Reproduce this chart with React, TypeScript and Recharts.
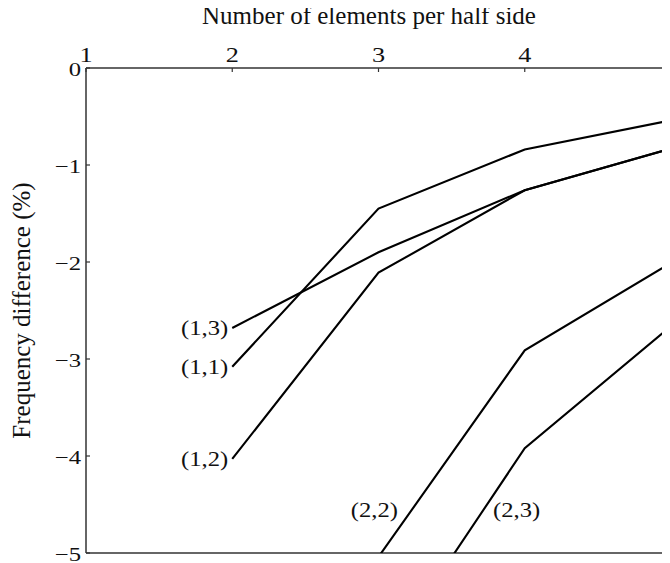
import React from "react";
import {
  LineChart,
  Line,
  XAxis,
  YAxis,
  ReferenceLine,
  ReferenceDot,
  LabelList,
  Label,
} from "recharts";

// number of elements per half side
const elements = [2, 3, 4, 5];
// frequency difference (%) per mesh
const s13 = [-2.68, -1.9, -1.26, -0.83];
const s11 = [-3.08, -1.45, -0.84, -0.54];
const s12 = [-4.03, -2.11, -1.26, -0.83];
const s22 = [null, -5.04, -2.91, -2.01];
const s23 = [null, -6.17, -3.92, -2.66];

const xTicks = [1, 2, 3, 4, 5];
const yTicks = [0, -1, -2, -3, -4, -5];

const FONT = "'Liberation Serif', 'Times New Roman', serif";
const INK = "#111";
const AXIS = "#333";

const data = elements.map((n, i) => ({
  n,
  s13: s13[i],
  s11: s11[i],
  s12: s12[i],
  s22: s22[i],
  s23: s23[i],
}));

const series = [
  { key: "s13", name: "(1,3)", startLabel: true },
  { key: "s11", name: "(1,1)", startLabel: true },
  { key: "s12", name: "(1,2)", startLabel: true },
  { key: "s22", name: "(2,2)", startLabel: false },
  { key: "s23", name: "(2,3)", startLabel: false },
];

// labels for the (2,x) curves sit beside the lines, not at a point
const sideLabels = [
  { name: "(2,2)", x: 3.133, y: -4.56, position: "left" },
  { name: "(2,3)", x: 3.783, y: -4.56, position: "right" },
];

function XTick(props: any) {
  const { x, y, payload } = props;
  return (
    <g>
      <line x1={x} x2={x} y1={y} y2={y + 4} stroke={AXIS} strokeWidth={1.2} />
      <text
        transform={`translate(${x}, ${y - 6}) scale(1.25, 1)`}
        textAnchor="middle"
        fontSize={21}
        fontFamily={FONT}
        fill={INK}
      >
        {payload.value}
      </text>
    </g>
  );
}

function YTick(props: any) {
  const { x, y, payload } = props;
  const v = payload.value;
  const txt = v === 0 ? "0" : "\u2212" + Math.abs(v);
  return (
    <g>
      <line x1={x} x2={x + 4} y1={y} y2={y} stroke={AXIS} strokeWidth={1.2} />
      <text
        transform={`translate(${x - 5}, ${y + 8}) scale(1.3, 1)`}
        textAnchor="end"
        fontSize={19}
        fontFamily={FONT}
        fill={INK}
      >
        {txt}
      </text>
    </g>
  );
}

// only the first point of a curve gets its name, to the left
function startLabel(name: string) {
  return (props: any) => {
    const { x, y, index } = props;
    if (index !== 0 || x == null || y == null) return null;
    return (
      <text
        transform={`translate(${x - 4}, ${y + 7}) scale(1.12, 1)`}
        textAnchor="end"
        fontSize={22}
        fontFamily={FONT}
        fill={INK}
      >
        {name}
      </text>
    );
  };
}

function sideLabel(name: string, position: string) {
  return (props: any) => {
    const { viewBox } = props;
    return (
      <text
        transform={`translate(${viewBox.x}, ${viewBox.y + 7}) scale(1.12, 1)`}
        textAnchor={position === "left" ? "end" : "start"}
        fontSize={22}
        fontFamily={FONT}
        fill={INK}
      >
        {name}
      </text>
    );
  };
}

export default function App() {
  // negative top margin collapses with the body margin so the title can sit near the top edge
  return (
    <div style={{ width: 662, height: 563, overflow: "hidden", marginTop: -8 }}>
      <LineChart
        width={700}
        height={563}
        data={data}
        margin={{ top: 8, right: 37, bottom: 10, left: 0 }}
      >
        <XAxis
          dataKey="n"
          type="number"
          orientation="top"
          domain={[1, 5]}
          ticks={xTicks}
          height={60}
          tickSize={0}
          tickMargin={0}
          tickLine={false}
          tick={<XTick />}
          axisLine={{ stroke: AXIS, strokeWidth: 1.5 }}
          allowDataOverflow
        >
          <Label
            content={(p: any) => (
              <text
                x={361}
                y={p.viewBox.y + 16}
                textAnchor="middle"
                fontSize={25}
                fontFamily={FONT}
                fill={INK}
              >
                Number of elements per half side
              </text>
            )}
          />
        </XAxis>
        <YAxis
          type="number"
          domain={[-5, 0]}
          ticks={yTicks}
          width={78}
          tickSize={0}
          tickMargin={0}
          tickLine={false}
          tick={<YTick />}
          axisLine={{ stroke: AXIS, strokeWidth: 1.5 }}
          allowDataOverflow
        >
          <Label
            content={(p: any) => {
              const vb = p.viewBox;
              const cy = vb.y + vb.height / 2;
              return (
                <text
                  transform={`translate(13, ${cy}) rotate(-90)`}
                  textAnchor="middle"
                  dominantBaseline="central"
                  fontSize={25}
                  fontFamily={FONT}
                  fill={INK}
                >
                  Frequency difference (%)
                </text>
              );
            }}
          />
        </YAxis>
        <ReferenceLine y={-5} stroke={AXIS} strokeWidth={1.5} />
        {series.map((s) => (
          <Line
            key={s.key}
            dataKey={s.key}
            name={s.name}
            type="linear"
            stroke="#000"
            strokeWidth={2.1}
            dot={false}
            activeDot={false}
            connectNulls={false}
            isAnimationActive={false}
          >
            {s.startLabel && <LabelList dataKey={s.key} content={startLabel(s.name)} />}
          </Line>
        ))}
        {sideLabels.map((l) => (
          <ReferenceDot
            key={l.name}
            x={l.x}
            y={l.y}
            r={0}
            stroke="none"
            fill="none"
            label={{ content: sideLabel(l.name, l.position) }}
          />
        ))}
      </LineChart>
    </div>
  );
}
